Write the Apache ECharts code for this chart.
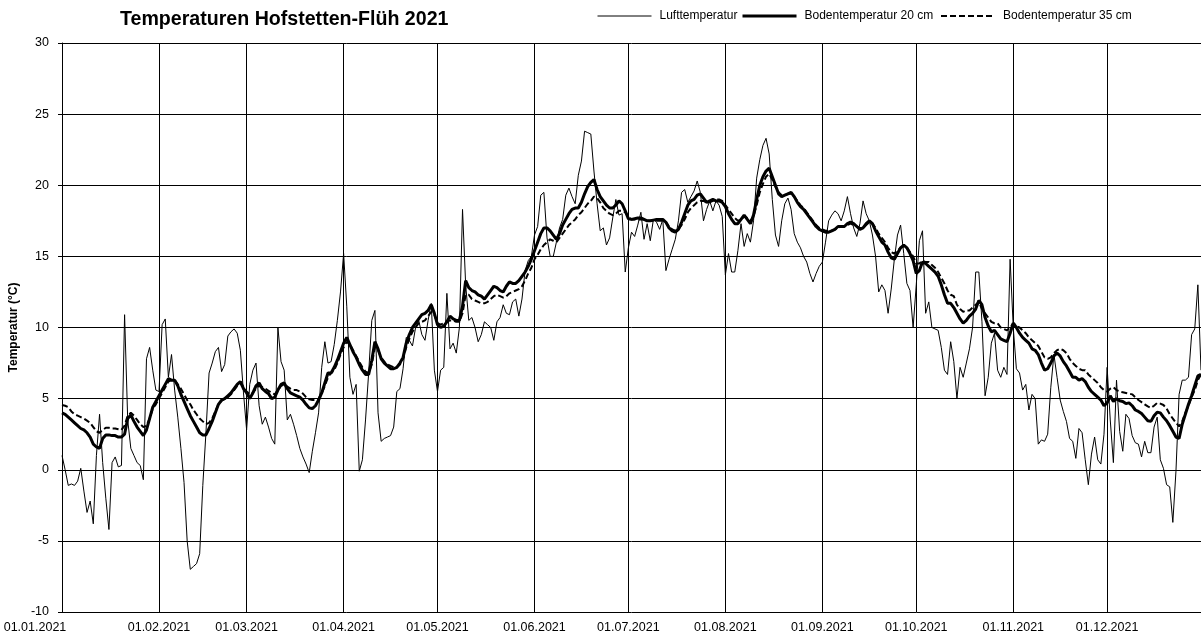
<!DOCTYPE html>
<html><head><meta charset="utf-8">
<script src="https://cdn.jsdelivr.net/npm/echarts@6/dist/echarts.min.js"></script>
<style>html,body{margin:0;padding:0;background:#fff}#c{width:1201px;height:642px}</style>
</head><body><div id="c"></div>
<script>
// Lufttemperatur (daily, 2021)
const luft = [
 1.0,0.0,-1.1,-1.0,-1.1,-0.8,0.1,-1.5,-3.0,-2.2,-3.8,1.0,3.9,0.5,-2.0,-4.2,0.5,0.9,0.2,0.3,10.9,3.5,1.5,1.0,0.5,0.3,-0.7,7.8,8.6,7.0,5.6,
 5.5,10.2,10.6,6.5,8.1,5.6,3.7,1.5,-0.9,-5.0,-7.0,-6.8,-6.6,-5.9,-1.1,2.6,6.8,7.5,8.3,8.6,6.9,7.4,9.4,9.7,9.9,9.6,8.4,5.4,
 2.8,6.0,7.0,7.5,4.5,3.2,3.7,3.0,2.2,1.8,10.0,7.6,7.0,3.5,3.9,3.2,2.4,1.5,0.9,0.4,-0.2,1.3,2.6,4.0,7.2,9.0,7.5,7.6,8.8,10.5,12.5,
 15.2,11.5,6.5,5.3,6.0,-0.1,0.7,3.5,6.8,10.5,11.2,4.0,2.0,2.2,2.3,2.4,3.0,5.5,5.7,7.1,9.3,9.1,8.7,10.0,10.5,9.5,9.1,10.5,11.7,7.0,
 5.5,7.0,7.2,12.4,8.5,8.9,8.2,10.0,18.3,13.0,10.5,10.7,10.0,9.0,9.5,10.4,10.2,10.0,9.1,10.4,10.7,11.6,11.0,10.9,11.8,12.0,10.8,12.0,14.0,14.7,15.0,
 16.5,17.1,19.3,19.5,16.3,15.0,15.0,16.0,17.0,17.6,19.3,19.8,19.2,18.7,20.7,21.7,23.8,23.7,23.6,21.0,18.7,16.8,17.0,15.8,16.3,17.7,19.0,17.9,18.0,13.9,
 15.6,16.7,16.4,17.2,18.1,16.2,17.3,16.1,17.6,17.4,16.9,17.6,14.0,14.8,15.5,16.2,17.5,19.5,19.7,18.8,19.2,19.6,20.3,19.5,17.5,18.3,18.9,18.2,18.9,18.6,17.8,
 13.7,15.2,13.9,13.9,15.4,17.3,15.7,16.6,16.0,17.5,20.5,21.8,22.8,23.3,22.2,19.0,16.5,15.7,17.5,18.7,19.1,18.3,16.6,16.0,15.6,15.0,14.6,13.8,13.2,13.8,14.3,
 14.6,16.0,17.5,17.9,18.2,18.0,17.5,18.2,19.2,18.0,17.0,16.4,17.3,18.9,18.0,17.5,16.5,15.0,12.5,13.0,12.6,11.0,12.7,14.8,16.5,17.2,15.2,13.1,12.6,10.0,
 13.0,16.1,16.8,11.0,11.8,10.0,9.9,9.8,8.6,7.0,6.7,9.0,7.6,5.0,7.2,6.5,7.5,8.5,10.0,13.9,13.9,10.4,5.2,6.5,8.9,9.6,7.0,6.5,7.2,6.7,14.8,
 10.0,7.1,6.8,5.6,6.0,4.2,5.3,5.0,1.8,2.1,2.0,2.5,5.8,8.1,6.5,4.9,4.1,3.4,2.2,2.0,0.8,2.9,2.6,0.7,-1.05,1.1,2.3,0.7,0.4,2.5,
 7.2,3.5,0.5,6.3,2.7,1.3,3.9,3.6,2.4,1.9,1.8,0.9,2.0,1.2,1.2,3.0,3.7,0.7,0.1,-1.05,-1.2,-3.7,-0.1,5.3,6.3,6.3,6.5,9.5,9.9,13.0,7.0
];
// Bodentemperatur 20 cm
const boden20 = [
 4.0,3.9,3.7,3.5,3.3,3.1,2.9,2.8,2.6,2.3,1.8,1.6,1.5,2.2,2.45,2.45,2.4,2.4,2.3,2.3,2.5,3.6,3.85,3.4,3.0,2.7,2.4,2.8,3.6,4.4,4.8,
 5.2,5.6,6.0,6.4,6.3,6.3,5.9,5.3,4.8,4.3,3.8,3.4,3.0,2.6,2.45,2.45,2.9,3.4,4.0,4.6,4.9,5.0,5.2,5.4,5.7,6.0,6.2,5.7,
 5.4,5.0,5.4,5.9,6.1,5.7,5.5,5.35,5.0,5.1,5.6,6.0,6.1,5.7,5.4,5.3,5.2,5.1,4.9,4.6,4.35,4.3,4.5,4.9,5.4,6.1,6.8,6.8,7.2,7.7,8.3,
 8.9,9.3,8.8,8.3,7.9,7.4,7.0,6.7,6.7,7.7,9.0,8.5,7.8,7.5,7.3,7.1,7.1,7.2,7.5,7.9,8.9,9.5,10.0,10.3,10.6,10.9,11.0,11.2,11.6,11.0,
 10.2,10.0,10.1,10.4,10.8,10.6,10.5,10.5,11.5,13.3,12.8,12.6,12.5,12.3,12.2,12.0,12.3,12.6,12.9,12.8,12.6,12.5,12.9,13.2,13.1,13.1,13.3,13.6,13.9,14.3,14.8,
 15.4,16.0,16.6,17.0,17.0,16.8,16.5,16.2,16.6,17.2,17.6,18.0,18.3,18.4,18.4,18.8,19.4,19.9,20.2,20.4,19.7,19.2,18.9,18.6,18.4,18.4,18.6,18.9,18.7,18.2,
 17.65,17.6,17.65,17.7,17.7,17.6,17.5,17.5,17.55,17.6,17.6,17.6,17.4,17.0,16.8,16.7,16.9,17.4,18.0,18.6,18.9,19.0,19.3,19.4,19.1,18.8,18.9,19.0,18.9,18.9,18.8,
 18.5,18.0,17.6,17.3,17.3,17.6,17.9,17.6,17.3,17.9,19.0,20.0,20.6,21.0,21.2,20.6,20.0,19.4,19.2,19.3,19.4,19.5,19.2,18.8,18.5,18.3,18.0,17.7,17.4,17.1,16.9,
 16.8,16.7,16.7,16.8,16.9,17.1,17.1,17.1,17.3,17.4,17.3,17.1,16.9,17.0,17.3,17.5,17.3,16.8,16.4,16.0,15.8,15.3,14.9,14.8,15.2,15.6,15.8,15.6,15.2,14.7,
 13.8,14.0,14.6,14.5,14.3,14.1,13.9,13.6,13.0,12.3,11.7,11.7,11.4,11.0,10.6,10.3,10.5,10.8,11.0,11.3,11.9,11.6,10.7,10.1,9.7,9.8,9.5,9.2,9.1,9.0,9.6,
 10.3,10.0,9.6,9.3,9.1,8.9,8.5,8.4,8.1,7.5,7.0,7.1,7.5,8.0,8.2,8.0,7.6,7.3,6.9,6.5,6.5,6.3,6.4,6.2,5.8,5.5,5.3,5.1,4.9,4.5,
 4.7,5.2,4.8,5.0,4.85,4.8,4.65,4.7,4.5,4.2,4.1,3.95,3.7,3.45,3.4,3.8,4.05,4.0,3.7,3.45,3.1,2.7,2.3,2.2,3.2,3.9,4.6,5.2,5.9,6.6,6.7
];
// Bodentemperatur 35 cm
const boden35 = [
 4.55,4.5,4.4,4.1,3.9,3.8,3.7,3.6,3.45,3.3,3.0,2.7,2.6,2.8,2.95,2.95,2.9,2.9,2.85,2.8,3.1,3.8,4.0,3.8,3.5,3.2,3.0,3.1,3.6,4.3,4.6,
 5.0,5.4,5.8,6.2,6.3,6.3,6.0,5.7,5.3,4.9,4.6,4.2,3.9,3.6,3.4,3.2,3.3,3.6,4.1,4.6,4.85,5.0,5.1,5.3,5.6,5.9,6.1,5.8,
 5.5,5.3,5.4,5.7,5.9,5.8,5.7,5.55,5.4,5.3,5.6,5.9,6.0,5.85,5.7,5.6,5.6,5.5,5.35,5.1,4.95,4.9,4.9,5.0,5.4,5.9,6.5,6.8,7.0,7.5,8.1,
 8.6,9.0,8.8,8.4,8.0,7.6,7.2,6.9,6.8,7.4,8.6,8.4,7.9,7.6,7.4,7.3,7.2,7.2,7.4,7.8,8.6,9.2,9.7,10.0,10.3,10.4,10.5,10.8,11.1,10.9,
 10.3,10.2,10.3,10.4,10.5,10.5,10.4,10.4,11.0,12.3,12.3,12.0,11.9,11.8,11.7,11.7,11.8,12.0,12.2,12.3,12.2,12.1,12.2,12.4,12.5,12.6,12.7,12.9,13.3,13.8,14.2,
 14.8,15.1,15.5,15.8,16.0,16.2,16.1,16.0,16.3,16.6,16.9,17.2,17.4,17.6,17.9,18.1,18.4,18.7,18.9,19.2,19.1,18.8,18.4,18.2,18.0,17.9,18.0,18.2,18.2,18.1,
 17.8,17.6,17.6,17.6,17.6,17.6,17.5,17.5,17.5,17.5,17.5,17.5,17.4,17.1,16.9,16.8,16.9,17.2,17.6,18.1,18.4,18.6,18.8,18.9,18.9,18.8,18.8,18.9,19.0,19.0,18.9,
 18.6,18.3,18.0,17.7,17.5,17.6,17.8,17.7,17.5,17.8,18.6,19.5,20.1,20.6,20.8,20.4,19.9,19.5,19.3,19.3,19.4,19.4,19.2,18.9,18.6,18.4,18.1,17.8,17.5,17.2,17.0,
 16.9,16.8,16.8,16.8,16.9,17.0,17.1,17.1,17.2,17.3,17.2,17.1,17.0,17.0,17.2,17.4,17.3,17.0,16.6,16.3,16.0,15.6,15.3,15.2,15.4,15.6,15.7,15.6,15.3,15.0,
 14.5,14.5,14.7,14.6,14.6,14.4,14.2,13.9,13.5,13.1,12.6,12.3,12.2,11.6,11.3,11.1,11.2,11.2,11.4,11.6,11.8,11.3,11.0,10.7,10.4,10.3,10.3,10.0,9.9,9.8,10.0,
 10.3,10.1,10.0,9.8,9.6,9.3,9.1,8.9,8.7,8.3,7.9,7.8,7.9,8.2,8.4,8.5,8.4,8.2,7.8,7.5,7.3,7.1,7.0,7.0,6.7,6.5,6.3,6.1,5.8,5.6,
 5.5,5.7,5.8,5.6,5.5,5.45,5.4,5.35,5.3,5.1,4.9,4.75,4.6,4.45,4.35,4.5,4.7,4.65,4.55,4.3,3.9,3.6,3.3,3.05,3.4,4.0,4.5,5.1,5.6,6.3,6.7
];
const seriesNames = ['Lufttemperatur', 'Bodentemperatur 20 cm', 'Bodentemperatur 35 cm'];
const yTicks = { min: -10, max: 30, step: 5 };

// date categories dd.mm.2021
const dates = [];
for (let i = 0; i < 365; i++) {
  const d = new Date(Date.UTC(2021, 0, 1 + i));
  const dd = String(d.getUTCDate()).padStart(2, '0');
  const mm = String(d.getUTCMonth() + 1).padStart(2, '0');
  dates.push(dd + '.' + mm + '.2021');
}

const FONT = '"Liberation Sans", Arial, sans-serif';
const monthStart = (i, v) => (typeof v === 'string' ? v : dates[i]).startsWith('01.');
const legendBase = {
  top: 5, itemWidth: 54, itemHeight: 10,
  itemStyle: { opacity: 0 },
  textStyle: { fontFamily: FONT, fontSize: 12, color: '#000', padding: [0, 0, 0, 3] }
};

const chart = echarts.init(document.getElementById('c'), null, { renderer: 'canvas' });
chart.setOption({
  animation: false,
  backgroundColor: '#fff',
  textStyle: { fontFamily: FONT },
  title: {
    text: 'Temperaturen Hofstetten-Flüh 2021',
    left: 115, top: 5,
    textStyle: { fontFamily: FONT, fontSize: 19.6, fontWeight: 'bold', color: '#000' }
  },
  legend: [
    Object.assign({}, legendBase, { left: 592, data: [seriesNames[0]], lineStyle: { width: 1 } }),
    Object.assign({}, legendBase, { left: 736, data: [seriesNames[1]], lineStyle: { width: 3 } }),
    Object.assign({}, legendBase, { left: 935, data: [seriesNames[2]], lineStyle: { width: 2 } })
  ],
  grid: { left: 62, right: 0, top: 43, bottom: 30, outerBoundsMode: 'none', containLabel: false },
  xAxis: {
    type: 'category', data: dates, boundaryGap: false,
    axisLine: { lineStyle: { color: '#000', width: 1 } },
    axisTick: { show: true, interval: monthStart, length: 4, lineStyle: { color: '#000' } },
    axisLabel: {
      interval: monthStart, fontSize: 12.5, color: '#000', fontFamily: FONT, margin: 9,
      formatter: (v, i) => i === 0 ? '{s|' + v + '}' : v,
      rich: { s: { padding: [0, 54, 0, 0], fontSize: 12.5, color: '#000', fontFamily: FONT } }
    },
    splitLine: { show: true, interval: monthStart, lineStyle: { color: '#000', width: 1 } }
  },
  yAxis: {
    type: 'value', min: yTicks.min, max: yTicks.max, interval: yTicks.step,
    name: 'Temperatur (°C)', nameLocation: 'middle', nameGap: 38,
    nameTextStyle: { fontFamily: FONT, fontSize: 12, fontWeight: 'bold', color: '#000' },
    axisLine: { show: true, lineStyle: { color: '#000', width: 1 } },
    axisTick: { show: true, length: 4, lineStyle: { color: '#000' } },
    axisLabel: { fontSize: 12.5, color: '#000', fontFamily: FONT, margin: 13 },
    splitLine: { show: true, lineStyle: { color: '#000', width: 1 } }
  },
  series: [
    { name: seriesNames[0], type: 'line', data: luft, symbol: 'none', z: 2,
      lineStyle: { color: '#000', width: 1 }, itemStyle: { color: '#000' } },
    { name: seriesNames[1], type: 'line', data: boden20, symbol: 'none', z: 3,
      lineStyle: { color: '#000', width: 3 }, itemStyle: { color: '#000' } },
    { name: seriesNames[2], type: 'line', data: boden35, symbol: 'none', z: 4,
      lineStyle: { color: '#000', width: 2, type: [6, 3] }, itemStyle: { color: '#000' } }
  ]
});
</script>
</body></html>
